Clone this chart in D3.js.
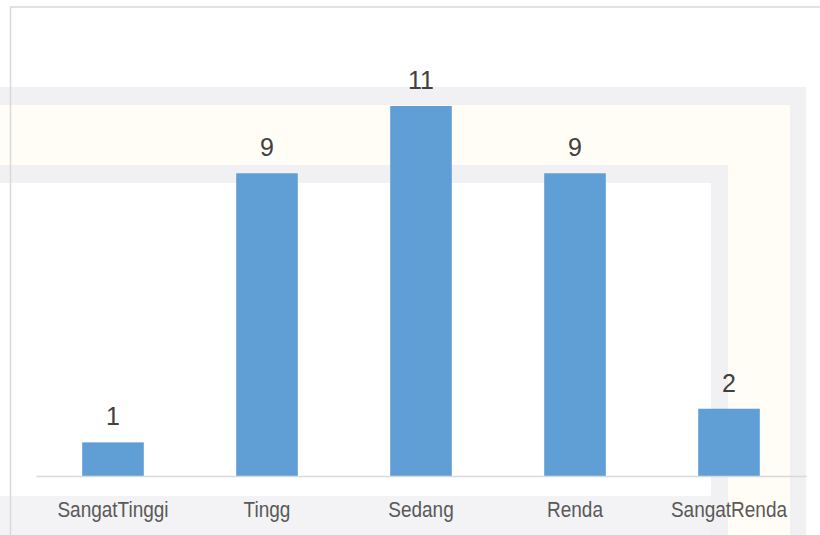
<!DOCTYPE html>
<html lang="id">
  <head>
    <meta charset="UTF-8">
    <title>Diagram batang</title>
    <style>
      html,body{
        background-color: #fff;
        margin: 0;
        padding: 0;
        overflow: hidden;
      }
      #chart text{
        font-family: "Liberation Sans", Arial, sans-serif;
      }
    </style>
  </head>
  <body>
    <div id="chart"></div>
    <script src="https://d3js.org/d3.v7.min.js"></script>
    <script>
      // data
      var kategori = ["SangatTinggi", "Tingg", "Sedang", "Renda", "SangatRenda"];
      var nilai = [1, 9, 11, 9, 2];

      var ancho = 820;
      var alto = 535;
      var margin = { left: 36, right: 14, top: 106, bottom: 59 };

      var svg = d3.select("#chart").append("svg")
        .attr("width", ancho)
        .attr("height", alto);

      // marca de agua (fondo tenue)
      var wm = svg.append("g").attr("class", "watermark");
      wm.append("path")
        .attr("d", "M0,87H806V535H790V105H0Z")
        .attr("fill", "#f1f1f3");
      wm.append("path")
        .attr("d", "M0,105H790V535H728V165H0Z")
        .attr("fill", "#fffdf6");
      wm.append("path")
        .attr("d", "M0,165H728V535H711V183H0Z")
        .attr("fill", "#f1f1f3");
      wm.append("rect")
        .attr("x", 0).attr("y", 496).attr("width", 711).attr("height", 39)
        .attr("fill", "#f3f3f5");

      // borde del area del grafico
      svg.append("path")
        .attr("d", "M10.5,545V7H830")
        .attr("fill", "none")
        .attr("stroke", "#d9d9d9")
        .attr("stroke-width", 1.5);

      var x = d3.scaleBand()
        .domain(kategori)
        .range([margin.left, ancho - margin.right])
        .paddingInner(0.6)
        .paddingOuter(0.3);

      var y = d3.scaleLinear()
        .domain([0, d3.max(nilai)])
        .range([alto - margin.bottom, margin.top]);

      var datos = kategori.map(function(k, i){
        return { k: k, v: nilai[i] };
      });

      // barras
      svg.append("g").selectAll("rect")
        .data(datos)
        .enter().append("rect")
        .attr("x", function(d){ return x(d.k); })
        .attr("y", function(d){ return y(d.v); })
        .attr("width", x.bandwidth())
        .attr("height", function(d){ return y(0) - y(d.v); })
        .attr("fill", "#5b9bd5")
        .attr("fill-opacity", 0.97);

      // etiquetas de valor
      svg.append("g").selectAll("text")
        .data(datos)
        .enter().append("text")
        .attr("x", function(d){ return x(d.k) + x.bandwidth() / 2; })
        .attr("y", function(d){ return y(d.v) - 17; })
        .attr("text-anchor", "middle")
        .attr("font-size", "25px")
        .attr("fill", "#404040")
        .text(function(d){ return d.v; });

      // eje x
      var ejeX = svg.append("g")
        .attr("transform", "translate(0," + y(0) + ")")
        .call(d3.axisBottom(x).tickSize(0).tickSizeOuter(0));
      ejeX.select(".domain")
        .attr("stroke", "#d9d9d9")
        .attr("stroke-width", 1.5);
      // el texto original sale algo estirado en vertical
      ejeX.selectAll("text")
        .attr("y", 0)
        .attr("dy", 0)
        .attr("transform", "translate(0,40.5) scale(1,1.17)")
        .attr("font-size", "19px")
        .attr("fill", "#595959");
    </script>
  </body>
</html>
